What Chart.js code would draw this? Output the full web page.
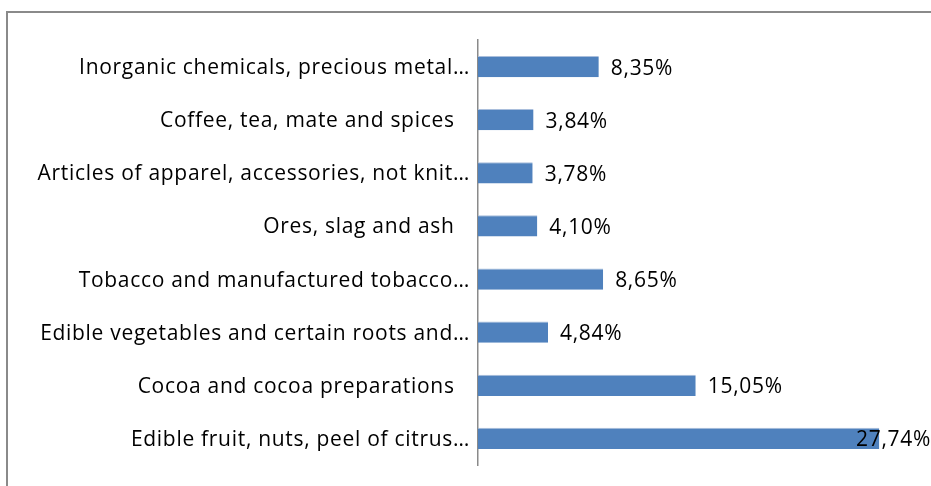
<!DOCTYPE html>
<html>
<head>
<meta charset="utf-8">
<script src="https://cdn.jsdelivr.net/npm/chart.js@4"></script>
<style>
  html, body { margin: 0; padding: 0; background: #fff; overflow: hidden; }
  #wrap { position: relative; width: 931px; height: 486px; }
  #frame { position: absolute; left: 6px; top: 11px; width: 2000px; height: 2000px;
           border-left: 2px solid #8a8a8a; border-top: 2px solid #8a8a8a; }
  canvas { position: absolute; left: 0; top: 0; }
</style>
</head>
<body>
<div id="wrap">
  <div id="frame"></div>
  <canvas id="c" width="931" height="486"></canvas>
</div>
<script>
// Product groups, top to bottom
const categories = [
  "Inorganic chemicals, precious metal\u2026",
  "Coffee, tea, mate and spices",
  "Articles of apparel, accessories, not knit\u2026",
  "Ores, slag and ash",
  "Tobacco and manufactured tobacco\u2026",
  "Edible vegetables and certain roots and\u2026",
  "Cocoa and cocoa preparations",
  "Edible fruit, nuts, peel of citrus\u2026"
];
// Share of exports, percent
const shares = [8.35, 3.84, 3.78, 4.10, 8.65, 4.84, 15.05, 27.74];
const axisMax = 30;

const FONT = { family: "'Open Sans', sans-serif", size: 21 };
const TRACKING = "0.7px";

const fmt = v => v.toFixed(2).replace(".", ",") + "%";

// slightly open letter spacing for all chart text
const tracking = {
  id: "tracking",
  beforeDraw(chart) { chart.ctx.letterSpacing = TRACKING; }
};

const valueLabels = {
  id: "valueLabels",
  afterDatasetsDraw(chart) {
    const ctx = chart.ctx;
    const meta = chart.getDatasetMeta(0);
    ctx.save();
    ctx.letterSpacing = TRACKING;
    ctx.font = FONT.size + "px " + FONT.family;
    ctx.fillStyle = "#000";
    ctx.textBaseline = "middle";
    ctx.textAlign = "left";
    meta.data.forEach((bar, i) => {
      const txt = fmt(shares[i]);
      const w = ctx.measureText(txt).width;
      let x = bar.x + 12;
      if (x + w > chart.width) x = chart.width - w;
      ctx.fillText(txt, x, bar.y + 2);
    });
    ctx.restore();
  }
};

new Chart(document.getElementById("c"), {
  type: "bar",
  data: {
    labels: categories,
    datasets: [{
      data: shares,
      backgroundColor: "#4f81bd",
      borderColor: "#a9bedc",
      borderWidth: { top: 1, right: 0, bottom: 0, left: 0 },
      borderSkipped: false,
      barPercentage: 0.4,
      categoryPercentage: 1.0
    }]
  },
  options: {
    indexAxis: "y",
    responsive: false,
    animation: false,
    events: [],
    layout: { padding: { top: 40, bottom: 21, right: 19, left: 0 } },
    plugins: { legend: { display: false }, tooltip: { enabled: false } },
    scales: {
      x: {
        min: 0, max: axisMax,
        display: false,
        grid: { display: false }
      },
      y: {
        grid: { display: false, drawTicks: false },
        border: { display: true, color: "#8a8a8a", width: 1.5 },
        ticks: {
          color: "#000",
          font: FONT,
          padding: 8,
          labelOffset: 1.5,
          callback(value, index) {
            const s = categories[index];
            // full names sit a little further from the axis than truncated ones
            return s.endsWith("\u2026") ? s : s + "\u2002\u2009";
          }
        },
        afterFit(scale) { scale.width = 478; }
      }
    }
  },
  plugins: [tracking, valueLabels]
});
</script>
</body>
</html>
